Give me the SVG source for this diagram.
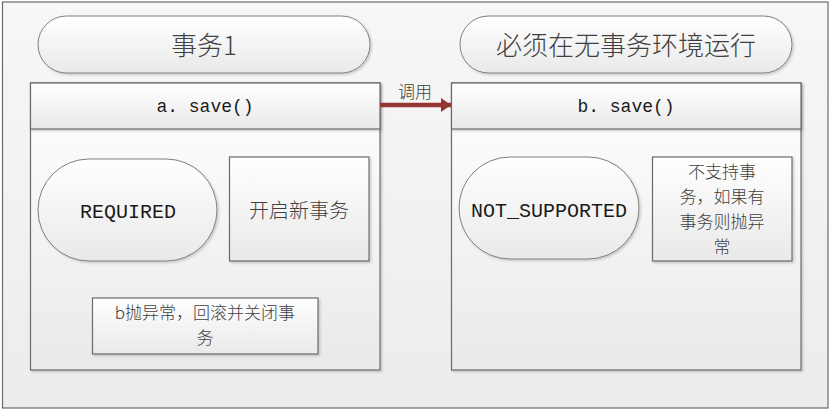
<svg xmlns="http://www.w3.org/2000/svg" width="832" height="411" viewBox="0 0 832 411">
<defs>
<linearGradient id="bg" x1="0" y1="0" x2="0" y2="1"><stop offset="0" stop-color="#f7f7f7"/><stop offset="1" stop-color="#ececec"/></linearGradient>
<linearGradient id="nf" x1="0" y1="0" x2="0" y2="1"><stop offset="0" stop-color="#ffffff"/><stop offset="1" stop-color="#e9e9e9"/></linearGradient>
<filter id="sh" x="-5%" y="-5%" width="112%" height="115%"><feDropShadow dx="1.5" dy="1.5" stdDeviation="1" flood-color="#000" flood-opacity="0.18"/></filter>
<marker id="ah" markerWidth="10" markerHeight="14" refX="10" refY="7" orient="auto" markerUnits="userSpaceOnUse"><path d="M0,0 L10,7 L0,14 Z" fill="#943634"/></marker>
<style>
.frame{fill:url(#bg);stroke:#6b6b6b;stroke-width:1.2}
.box{fill:url(#nf);stroke:#6b6b6b;stroke-width:1.2;filter:url(#sh)}
.pill{fill:url(#nf);stroke:#7f7f7f;stroke-width:1;filter:url(#sh)}
.cjk{font-family:"Noto Sans CJK SC","Noto Sans",sans-serif;fill:#404040;text-anchor:middle;font-weight:300}
.mono{font-family:"Liberation Mono","DejaVu Sans Mono",monospace;fill:#1a1a1a;text-anchor:middle}
</style>
</defs>
<rect class="frame" x="2.5" y="2" width="825.5" height="406"/>
<g id="title1"><rect class="pill" x="38" y="16" width="332" height="57" rx="28.5"/><text class="cjk" x="204" y="55" font-size="26">事务1</text></g>
<g id="title2"><rect class="pill" x="460" y="16" width="332" height="57" rx="28.5"/><text class="cjk" x="626" y="55" font-size="26">必须在无事务环境运行</text></g>
<g id="asave"><rect class="box" x="30.5" y="83" width="349.5" height="287"/><rect class="box" x="30.5" y="83" width="349.5" height="46"/><text class="mono" x="205" y="112" font-size="18">a. save()</text></g>
<g id="bsave"><rect class="box" x="451.5" y="83" width="349.5" height="287"/><rect class="box" x="451.5" y="83" width="349.5" height="46"/><text class="mono" x="626" y="112" font-size="18">b. save()</text></g>
<g id="required"><rect class="pill" x="38" y="159" width="179" height="102" rx="51"/><text class="mono" x="128" y="218" font-size="20">REQUIRED</text></g>
<g id="newtx"><rect class="box" x="229.5" y="157" width="139.5" height="104"/><text class="cjk" x="299" y="218" font-size="20">开启新事务</text></g>
<g id="rollback"><rect class="box" x="92.5" y="298" width="225.5" height="56"/><text class="cjk" font-size="17"><tspan x="205" y="319">b抛异常，回滚并关闭事</tspan><tspan x="205" y="344">务</tspan></text></g>
<g id="notsupport"><rect class="pill" x="459" y="157" width="180" height="102" rx="51"/><text class="mono" x="549" y="217" font-size="20">NOT_SUPPORTED</text></g>
<g id="nosupport"><rect class="box" x="652.5" y="157" width="139.5" height="104"/><text class="cjk" font-size="17"><tspan x="722" y="178">不支持事</tspan><tspan x="722" y="203">务，如果有</tspan><tspan x="722" y="228">事务则抛异</tspan><tspan x="722" y="253">常</tspan></text></g>
<g id="connectors"><line x1="380" y1="105" x2="451" y2="105" stroke="#943634" stroke-width="4.5" marker-end="url(#ah)"/><text class="cjk" x="415" y="98" font-size="17">调用</text></g>
</svg>
